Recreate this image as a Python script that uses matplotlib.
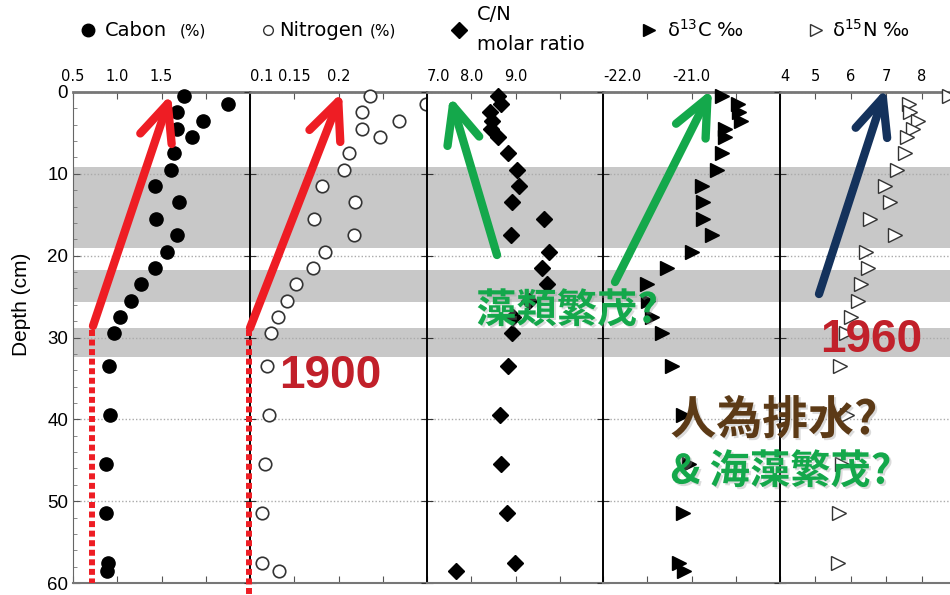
import matplotlib
matplotlib.use("Agg")
import matplotlib.pyplot as plt
import matplotlib.patheffects as pe
from matplotlib.patches import FancyArrowPatch
from matplotlib.lines import Line2D

# ── data (depth in cm) ───────────────────────────────────────────────────────
depth = [0.5, 1.5, 2.5, 3.5, 4.5, 5.5, 7.5, 9.5, 11.5, 13.5, 15.5, 17.5,
         19.5, 21.5, 23.5, 25.5, 27.5, 29.5, 33.5, 39.5, 45.5, 51.5, 57.5, 58.5]

carbon = [1.75, 2.25, 1.67, 1.97, 1.68, 1.85, 1.64, 1.61, 1.43, 1.70, 1.44, 1.67,
          1.56, 1.43, 1.27, 1.15, 1.03, 0.96, 0.91, 0.92, 0.875, 0.87, 0.89, 0.88]

nitrogen = [0.236, 0.299, 0.227, 0.268, 0.227, 0.247, 0.212, 0.206, 0.181, 0.219,
            0.172, 0.217, 0.185, 0.171, 0.152, 0.142, 0.132, 0.124, 0.119, 0.122,
            0.1165, 0.1135, 0.1135, 0.133]

cn_ratio = [8.60, 8.67, 8.42, 8.47, 8.45, 8.60, 8.83, 9.04, 9.08, 8.92, 9.64, 8.89,
            9.76, 9.60, 9.72, 9.30, 8.95, 8.91, 8.82, 8.65, 8.68, 8.80, 8.99, 7.65]

d13c = [-20.66, -20.48, -20.46, -20.44, -20.62, -20.62, -20.65, -20.71, -20.88,
        -20.87, -20.87, -20.77, -20.99, -21.28, -21.50, -21.49, -21.45, -21.33,
        -21.22, -21.10, -21.03, -21.10, -21.14, -21.08]

depth_n15 = depth[:-1]
d15n = [8.76, 7.64, 7.67, 7.90, 7.76, 7.60, 7.54, 7.31, 6.98, 7.11, 6.54, 7.26,
        6.43, 6.48, 6.29, 6.21, 6.00, 5.86, 5.69, 5.88, 5.76, 5.66, 5.63]

bands = [(9.2, 19.1), (21.8, 25.7), (28.9, 32.4)]

xlims = [(0.5, 2.5), (0.1, 0.3), (7.0, 11.0), (-22.0, -20.0), (4.0, 9.0)]
xticks = [[0.5, 1.0, 1.5, 2.0, 2.5],
          [0.1, 0.15, 0.2, 0.25, 0.3],
          [7, 8, 9, 10, 11],
          [-22.0, -21.5, -21.0, -20.5, -20.0],
          [4, 5, 6, 7, 8, 9]]
xticklabels = [["0.5", "1.0", "1.5", "", ""],
               ["0.1", "0.15", "0.2", "", ""],
               ["7.0", "8.0", "9.0", "", ""],
               ["-22.0", "", "-21.0", "", ""],
               ["4", "5", "6", "7", "8", ""]]

W, H = 950, 595
CJK = ["Noto Sans CJK JP", "DejaVu Sans"]

fig = plt.figure(figsize=(W / 100, H / 100), dpi=100)


def fx(x, y):
    return (x / W, 1 - y / H)


# ── panels ────────────────────────────────────────────────────────────────────
lefts = [73, 250, 427, 603, 780]
pw = 177
top, bottom = 92, 583
axes = []
for i, left in enumerate(lefts):
    ax = fig.add_axes([left / W, 1 - bottom / H, pw / W, (bottom - top) / H])
    ax.set_xlim(*xlims[i])
    ax.set_ylim(60, 0)
    for lo, hi in bands:
        ax.axhspan(lo, hi, color="#c8c8c8", lw=0, zorder=0)
    ax.set_axisbelow(True)
    ax.yaxis.grid(True, linestyle=(0, (1, 1.5)), color="#aaaaaa", lw=1)
    ax.set_xticks(xticks[i])
    ax.set_xticklabels(xticklabels[i], fontsize=10.5)
    ax.tick_params(axis="x", top=True, bottom=True, labeltop=True, labelbottom=False,
                   direction="in", length=5, color="#555555", pad=6)
    ax.set_yticks(range(0, 61, 10))
    if i == 0:
        ax.set_yticks(range(0, 61, 2), minor=True)
        ax.tick_params(axis="y", which="major", direction="in", length=5,
                       labelsize=13.5, color="#555555")
        ax.tick_params(axis="y", which="minor", direction="in", length=3, color="#777777")
        for lab in ax.get_yticklabels():
            lab.set_family("Liberation Sans")
        ax.spines["left"].set_color("#666666")
    else:
        ax.tick_params(axis="y", direction="inout", length=9, labelleft=False, color="#333333")
        ax.spines["left"].set_color("black")
        ax.spines["left"].set_linewidth(1.4)
        ax.get_xticklabels()[0].set_ha("left")
    ax.spines["top"].set_color("#777777")
    ax.spines["top"].set_linewidth(2)
    ax.spines["bottom"].set_color("#777777")
    ax.spines["bottom"].set_linewidth(1.5)
    ax.spines["right"].set_visible(False)
    axes.append(ax)

axes[0].plot(carbon, depth, "o", ms=9.5, color="black", clip_on=False, zorder=3)
axes[1].plot(nitrogen, depth, "o", ms=9, mfc="white", mec="#333333", mew=1.2,
             clip_on=False, zorder=3)
axes[2].plot(cn_ratio, depth, "D", ms=8, color="black", clip_on=False, zorder=3)
axes[3].plot(d13c, depth, ">", ms=10, color="black", clip_on=False, zorder=3)
axes[4].plot(d15n, depth_n15, ">", ms=9.5, mfc="white", mec="#333333", mew=1,
             clip_on=False, zorder=3)

fig.text(*fx(22, 304), "Depth (cm)", rotation=90, ha="center", va="center",
         fontsize=15, family="Liberation Sans")

# ── legend row ───────────────────────────────────────────────────────────────
leg_y = 30
fig.add_artist(Line2D([88 / W], [1 - leg_y / H], marker="o", ms=9, color="black", ls="none"))
fig.text(*fx(105, leg_y), "Cabon", fontsize=14, va="center")
fig.text(*fx(180, leg_y + 1), "(%)", fontsize=11, va="center")
fig.add_artist(Line2D([268 / W], [1 - leg_y / H], marker="o", ms=7, mfc="white",
                      mec="#333333", ls="none"))
fig.text(*fx(279, leg_y), "Nitrogen", fontsize=14, va="center")
fig.text(*fx(370, leg_y + 1), "(%)", fontsize=11, va="center")
fig.add_artist(Line2D([459 / W], [1 - leg_y / H], marker="D", ms=8, color="black", ls="none"))
fig.text(*fx(477, 14), "C/N", fontsize=14, va="center")
fig.text(*fx(477, 44), "molar ratio", fontsize=14, va="center")
fig.add_artist(Line2D([649 / W], [1 - leg_y / H], marker=">", ms=9, color="black", ls="none"))
fig.text(*fx(667, leg_y), "δ$^{13}$C ‰", fontsize=14, va="center")
fig.add_artist(Line2D([816 / W], [1 - leg_y / H], marker=">", ms=8, mfc="white",
                      mec="#333333", ls="none"))
fig.text(*fx(832, leg_y), "δ$^{15}$N ‰", fontsize=14, va="center")

# ── annotations ──────────────────────────────────────────────────────────────
RED, GREEN, NAVY = "#ee1d24", "#14a84b", "#14325c"


def arrow(p0, p1, color):
    a = FancyArrowPatch(fx(*p0), fx(*p1), transform=fig.transFigure,
                        arrowstyle="->,head_length=0.38,head_width=0.17",
                        mutation_scale=70, lw=6, color=color,
                        capstyle="round", joinstyle="round", shrinkA=0, shrinkB=0)
    fig.add_artist(a)


for x, y_end in [(92, 583), (249, 595)]:
    fig.add_artist(Line2D([x / W, x / W], [1 - 330 / H, 1 - y_end / H],
                          color=RED, lw=4.3, ls=(0, (1, 0.6)), solid_capstyle="butt"))

arrow((93, 326), (171, 94), RED)
arrow((250, 328), (342, 92), RED)
arrow((497, 255), (450, 96), GREEN)
arrow((615, 282), (712, 89), GREEN)
arrow((819, 294), (886, 88), NAVY)

shadow = [pe.withSimplePatchShadow(offset=(1.5, -1.5), shadow_rgbFace="#999999", alpha=0.35)]

fig.text(*fx(330, 376), "1900", fontsize=33, fontweight="bold", color="#c1202a",
         ha="center", va="center", family="Liberation Sans")
fig.text(*fx(871, 340), "1960", fontsize=33, fontweight="bold", color="#c1202a",
         ha="center", va="center", family="Liberation Sans")
fig.text(*fx(567, 311), "藻類繁茂?", fontsize=29, fontweight="bold", color=GREEN,
         ha="center", va="center", family=CJK, path_effects=shadow)
fig.text(*fx(774, 421), "人為排水?", fontsize=33, fontweight="bold", color="#5c3a16",
         ha="center", va="center", family=CJK, path_effects=shadow)
fig.text(*fx(781, 472), "& 海藻繁茂?", fontsize=29, fontweight="bold", color=GREEN,
         ha="center", va="center", family=CJK, path_effects=shadow)

fig.savefig("out.png", dpi=100)
